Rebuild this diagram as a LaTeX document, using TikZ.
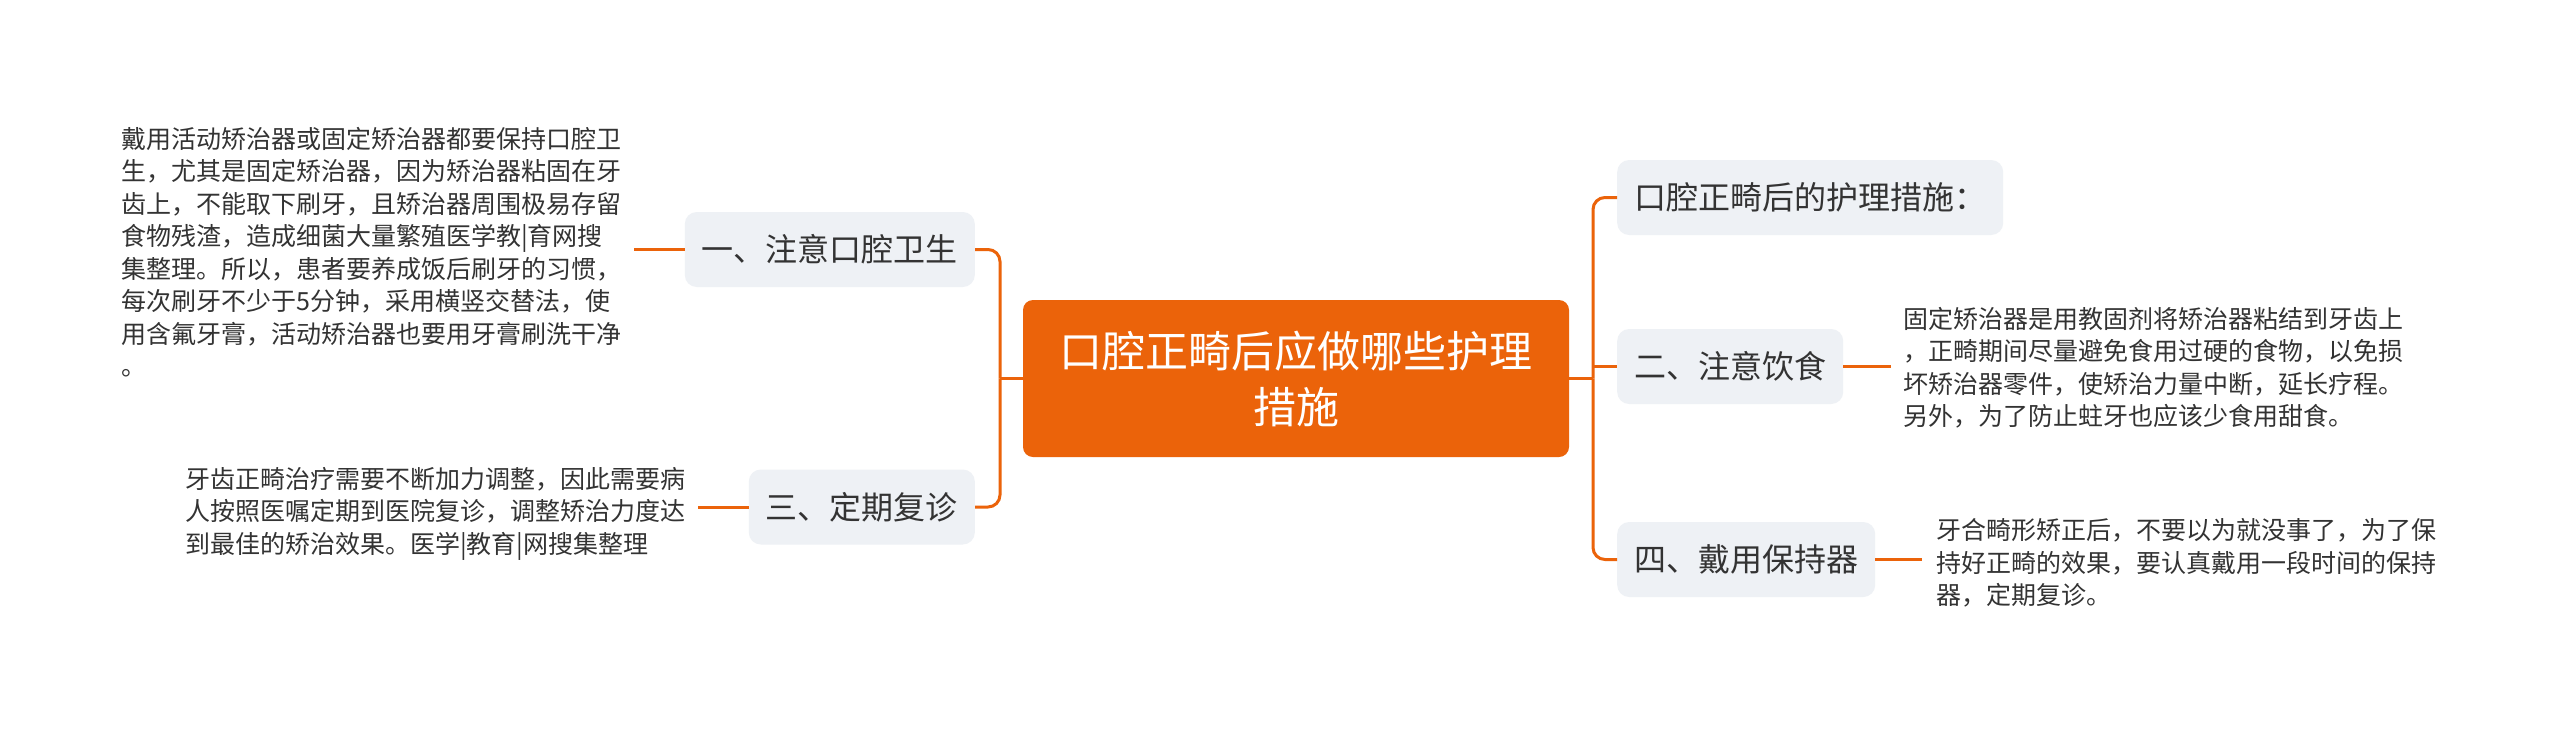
\documentclass[tikz,border=0pt]{standalone}
\usepackage{fontspec}
\setmainfont{Noto Sans CJK SC}
\definecolor{brand}{HTML}{EB630A}
\definecolor{boxgray}{HTML}{EEF1F5}
\definecolor{txt}{HTML}{333333}
\tikzset{
  conn/.style={draw=brand, line width=3pt},
  topic/.style={fill=boxgray, rounded corners=12pt, minimum height=75pt, inner xsep=17pt, inner ysep=0pt, text=txt, font=\fontsize{32}{38}\selectfont},
  rootbox/.style={fill=brand, rounded corners=10pt, minimum width=546pt, minimum height=157pt, text=white, align=center, font=\fontsize{43}{56}\selectfont},
  leaf/.style={inner sep=0pt, align=left, text=txt, font=\fontsize{25}{32.5}\selectfont, anchor=west},
}
\begin{document}
\begin{tikzpicture}[x=1pt,y=-1pt]
\useasboundingbox[fill=white] (0,0) rectangle (2560,729);
\node[rootbox] (root) at (1296,378.5) {口腔正畸后应做哪些护理\\措施};
\node[topic, anchor=east] (b1) at (975,249.5) {一、注意口腔卫生};
\node[topic, anchor=east] (b3) at (975,507) {三、定期复诊};
\node[topic, anchor=west] (b0) at (1617,197.5) {口腔正畸后的护理措施：};
\node[topic, anchor=west] (b2) at (1617,366.5) {二、注意饮食};
\node[topic, anchor=west] (b4) at (1617,559.5) {四、戴用保持器};
\node[leaf] (t1) at (121,252) {戴用活动矫治器或固定矫治器都要保持口腔卫\\生，尤其是固定矫治器，因为矫治器粘固在牙\\齿上，不能取下刷牙，且矫治器周围极易存留\\食物残渣，造成细菌大量繁殖医学教|育网搜\\集整理。所以，患者要养成饭后刷牙的习惯，\\每次刷牙不少于5分钟，采用横竖交替法，使\\用含氟牙膏，活动矫治器也要用牙膏刷洗干净\\。};
\node[leaf] (t3) at (185,513.5) {牙齿正畸治疗需要不断加力调整，因此需要病\\人按照医嘱定期到医院复诊，调整矫治力度达\\到最佳的矫治效果。医学|教育|网搜集整理};
\node[leaf] (t2) at (1903,367.5) {固定矫治器是用教固剂将矫治器粘结到牙齿上\\，正畸期间尽量避免食用过硬的食物，以免损\\坏矫治器零件，使矫治力量中断，延长疗程。\\另外，为了防止蛀牙也应该少食用甜食。};
\node[leaf] (t4) at (1936,563) {牙合畸形矫正后，不要以为就没事了，为了保\\持好正畸的效果，要认真戴用一段时间的保持\\器，定期复诊。};
\coordinate (jL) at (1000,378.5);
\coordinate (jR) at (1593,378.5);
\draw[conn] (root.west) -- (jL);
\draw[conn, rounded corners=12pt] (jL) |- (b1.east);
\draw[conn, rounded corners=12pt] (jL) |- (b3.east);
\draw[conn] (root.east) -- (jR);
\draw[conn, rounded corners=12pt] (jR) |- (b0.west);
\draw[conn, rounded corners=12pt] (jR) |- (b4.west);
\draw[conn] (b2.west -| jR) -- (b2.west);
\draw[conn, shorten >=13pt] (b1.west) -- (b1.west -| t1.east);
\draw[conn, shorten >=13pt] (b3.west) -- (b3.west -| t3.east);
\draw[conn, shorten >=12pt] (b2.east) -- (b2.east -| t2.west);
\draw[conn, shorten >=14pt] (b4.east) -- (b4.east -| t4.west);
\end{tikzpicture}
\end{document}
